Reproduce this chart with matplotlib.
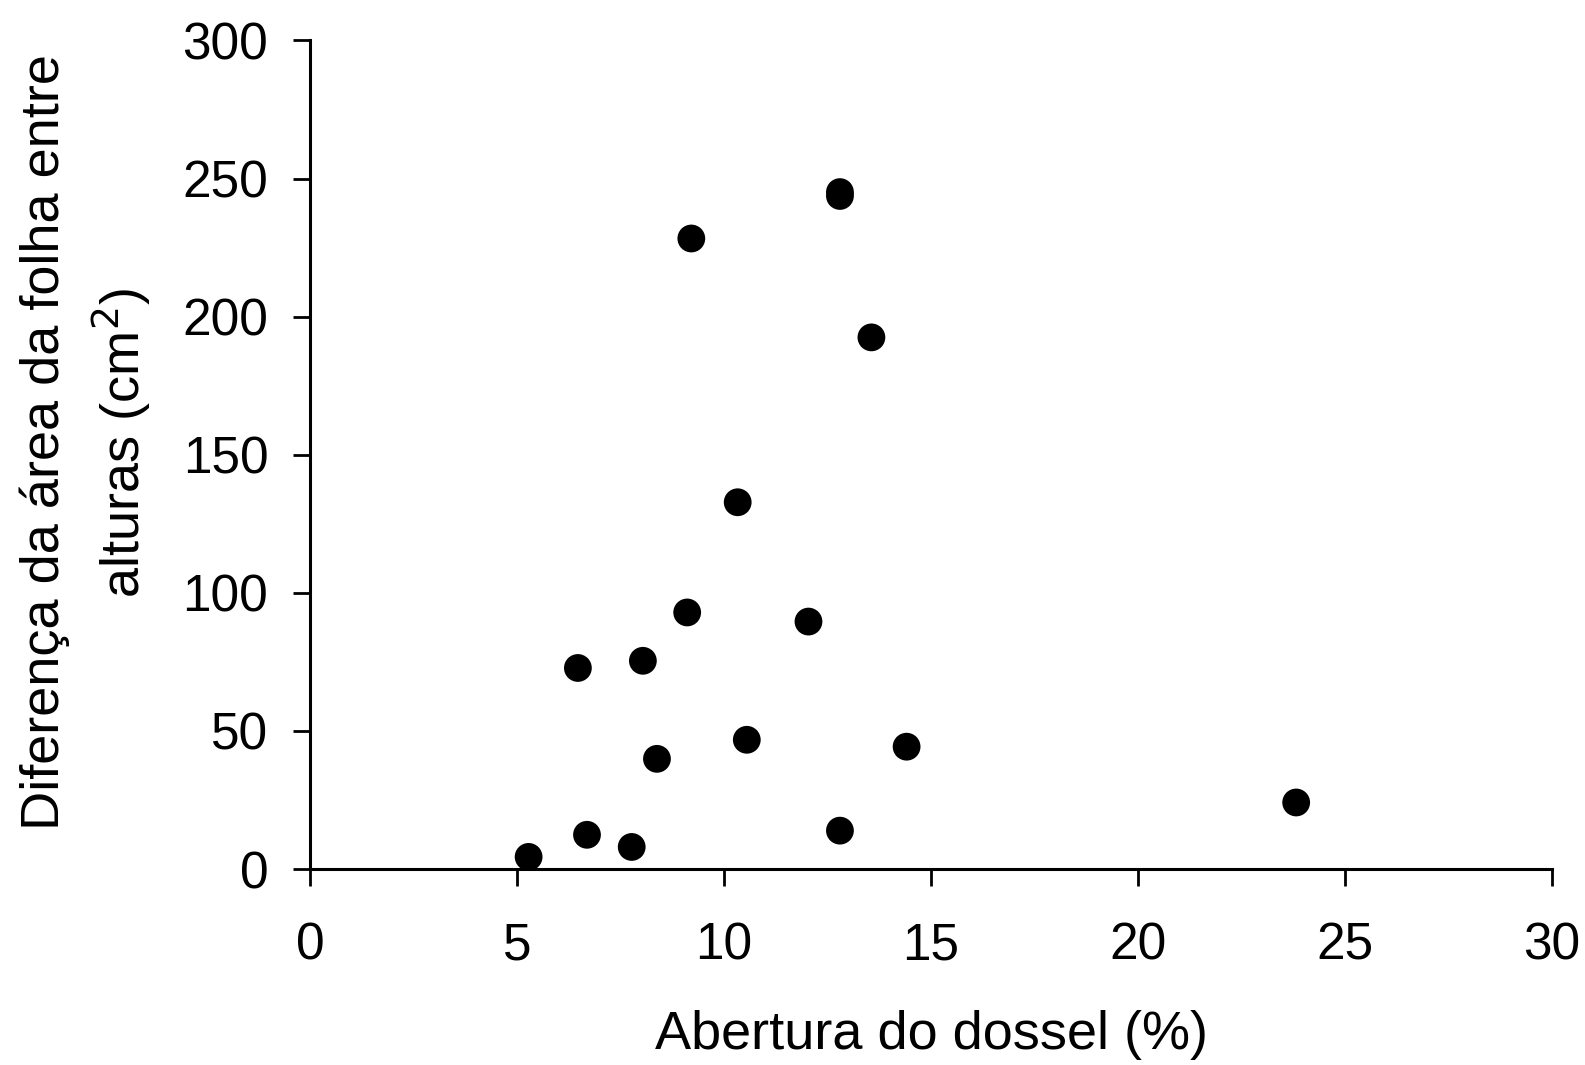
import matplotlib
matplotlib.use("Agg")
import matplotlib.pyplot as plt

# canopy openness (%) vs leaf area difference between heights (cm2)
abertura = [5.28, 6.69, 7.77, 6.47, 8.04, 8.38, 9.11, 9.21, 10.33,
            10.55, 12.04, 12.80, 12.80, 12.80, 13.56, 14.41, 23.82]
diferenca = [4.4, 12.4, 8.0, 72.8, 75.4, 39.9, 92.9, 228.3, 132.8,
             46.8, 89.6, 245.1, 243.7, 13.9, 192.5, 44.3, 24.1]

xticks = [0, 5, 10, 15, 20, 25, 30]
yticks = [0, 50, 100, 150, 200, 250, 300]

plt.rcParams['font.family'] = ['Liberation Sans', 'DejaVu Sans']

fig = plt.figure(figsize=(15.85, 10.65), dpi=100)
ax = fig.add_axes([0.1956, 0.184, 0.7836, 0.778])

ax.scatter(abertura, diferenca, s=20 ** 2, c='black', marker='o',
           edgecolors='none', clip_on=False, zorder=3)

ax.set_xlim(0, 30)
ax.set_ylim(0, 300)
ax.set_xticks(xticks)
ax.set_yticks(yticks)

for s in ['top', 'right']:
    ax.spines[s].set_visible(False)
for s in ['left', 'bottom']:
    ax.spines[s].set_linewidth(2.2)

ax.tick_params(axis='both', direction='out', length=12, width=2,
               labelsize=37)
ax.tick_params(axis='x', pad=26)
ax.tick_params(axis='y', pad=18)

ax.set_xlabel('Abertura do dossel (%)', fontsize=39, labelpad=28)
ax.text(-0.18, 0.515, 'Diferença da área da folha entre\nalturas (cm$^2$)',
        transform=ax.transAxes, rotation=90, ha='center', va='center',
        multialignment='center', fontsize=39, linespacing=1.4)

fig.savefig('out.png', dpi=100)
